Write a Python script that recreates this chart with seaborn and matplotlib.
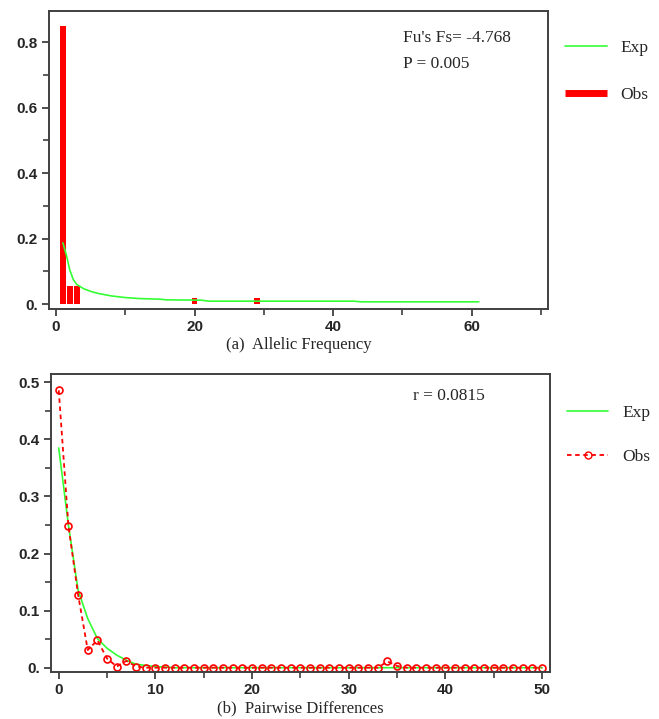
#!/usr/bin/env python3
"""Mismatch plots: allelic frequency (Fu's Fs) and pairwise differences."""

import matplotlib

matplotlib.use("Agg")
import matplotlib.pyplot as plt
import seaborn as sns
from matplotlib.lines import Line2D
from matplotlib.ticker import FixedLocator, MultipleLocator

sns.set_style("ticks")

# (a) allelic frequency
ALLELE_X = [1, 2, 3, 20, 29]
ALLELE_OBS = [0.848, 0.056, 0.056, 0.02, 0.02]
ALLELE_EXP_X = [1, 1.5, 2, 2.5, 3, 4, 5, 6, 7, 8, 10, 12, 15, 16, 21, 22, 30, 40, 43, 44, 50, 61]
ALLELE_EXP = [0.187, 0.150, 0.104, 0.075, 0.060, 0.047, 0.039, 0.033, 0.029, 0.025,
              0.020, 0.017, 0.015, 0.013, 0.012, 0.009, 0.009, 0.009, 0.009, 0.007,
              0.007, 0.007]
ALLELE_YTICKS = [0.0, 0.2, 0.4, 0.6, 0.8]
ALLELE_YLABELS = ["0.", "0.2", "0.4", "0.6", "0.8"]
ALLELE_XTICKS = [0, 20, 40, 60]

# (b) pairwise differences
PAIR_X = list(range(51))
PAIR_OBS = [0.486, 0.249, 0.128, 0.031, 0.048, 0.016, 0.002, 0.012, 0.002, 0.0,
            0.0, 0.0, 0.0, 0.0, 0.0, 0.0, 0.0, 0.0, 0.0, 0.0,
            0.0, 0.0, 0.0, 0.0, 0.0, 0.0, 0.0, 0.0, 0.0, 0.0,
            0.0, 0.0, 0.0, 0.0, 0.011, 0.003, 0.0, 0.0, 0.0, 0.0,
            0.0, 0.0, 0.0, 0.0, 0.0, 0.0, 0.0, 0.0, 0.0, 0.0, 0.0]
PAIR_EXP = [0.385, 0.250, 0.136, 0.086, 0.051, 0.034, 0.022, 0.013, 0.006, 0.004,
            0.002, 0.001] + [0.0] * 39
PAIR_YTICKS = [0.0, 0.1, 0.2, 0.3, 0.4, 0.5]
PAIR_YLABELS = ["0.", "0.1", "0.2", "0.3", "0.4", "0.5"]
PAIR_XTICKS = [0, 10, 20, 30, 40, 50]

RED = "#ff0000"
GREEN = "#33ff33"
SERIF = "Liberation Serif"
SPINE = "#404040"


def style_axes(ax):
    for spine in ax.spines.values():
        spine.set_visible(True)
        spine.set_color(SPINE)
        spine.set_linewidth(1.4)
    ax.tick_params(which="major", direction="out", length=5, width=1.3, color=SPINE,
                   labelsize=11, pad=3)
    ax.tick_params(which="minor", direction="out", length=4, width=1.2, color=SPINE)
    for lab in ax.get_xticklabels() + ax.get_yticklabels():
        lab.set_fontweight("bold")
        lab.set_family("Liberation Sans")
    ax.set_ylabel("")


def main() -> None:
    fig = plt.figure(figsize=(6.59, 7.19), dpi=100)
    ax1 = fig.add_axes([0.0744, 0.5702, 0.7572, 0.4145])
    ax2 = fig.add_axes([0.0774, 0.0650, 0.7570, 0.4144])

    # panel (a)
    sns.barplot(x=ALLELE_X, y=ALLELE_OBS, native_scale=True, color=RED, width=0.8,
                saturation=1, edgecolor="none", ax=ax1)
    sns.lineplot(x=ALLELE_EXP_X, y=ALLELE_EXP, color=GREEN, linewidth=1.2, ax=ax1)
    ax1.set_xlim(-1, 71)
    ax1.set_ylim(-0.015, 0.895)
    ax1.xaxis.set_major_locator(FixedLocator(ALLELE_XTICKS))
    ax1.xaxis.set_minor_locator(FixedLocator([10, 30, 50, 70]))
    ax1.set_yticks(ALLELE_YTICKS)
    ax1.set_yticklabels(ALLELE_YLABELS)
    ax1.yaxis.set_minor_locator(FixedLocator([0.1, 0.3, 0.5, 0.7]))
    ax1.set_xlabel("(a)  Allelic Frequency", family=SERIF, fontsize=12, labelpad=2)
    style_axes(ax1)
    ax1.text(0.71, 0.895, "Fu's Fs= -4.768", transform=ax1.transAxes, family=SERIF,
             fontsize=12.5)
    ax1.text(0.71, 0.81, "P = 0.005", transform=ax1.transAxes, family=SERIF,
             fontsize=12.5)
    handles1 = [Line2D([], [], color=GREEN, linewidth=1.2),
                Line2D([], [], color=RED, linewidth=5, solid_capstyle="butt")]
    ax1.legend(handles1, ["Exp", "Obs"], loc="upper left", bbox_to_anchor=(1.02, 0.925),
               frameon=False, prop={"family": SERIF, "size": 12.5}, handlelength=2.4,
               labelspacing=1.75, borderaxespad=0)

    # panel (b)
    sns.lineplot(x=PAIR_X, y=PAIR_EXP, color=GREEN, linewidth=1.2, ax=ax2)
    sns.lineplot(x=PAIR_X, y=PAIR_OBS, color=RED, linewidth=1.3, linestyle=(0, (2.5, 2)),
                 marker="o", markersize=5, markerfacecolor="none", markeredgecolor=RED,
                 markeredgewidth=1.2, ax=ax2)
    ax2.set_xlim(-0.8, 50.8)
    ax2.set_ylim(-0.008, 0.514)
    ax2.set_xticks(PAIR_XTICKS)
    ax2.xaxis.set_minor_locator(MultipleLocator(5))
    ax2.set_yticks(PAIR_YTICKS)
    ax2.set_yticklabels(PAIR_YLABELS)
    ax2.yaxis.set_minor_locator(FixedLocator([0.05, 0.15, 0.25, 0.35, 0.45]))
    ax2.set_xlabel("(b)  Pairwise Differences", family=SERIF, fontsize=12, labelpad=2)
    style_axes(ax2)
    ax2.text(0.725, 0.915, "r = 0.0815", transform=ax2.transAxes, family=SERIF,
             fontsize=12.5)
    handles2 = [Line2D([], [], color=GREEN, linewidth=1.2),
                Line2D([], [], color=RED, linewidth=1.3, linestyle=(0, (2.5, 2)),
                       marker="o", markersize=5, markerfacecolor="none",
                       markeredgecolor=RED)]
    ax2.legend(handles2, ["Exp", "Obs"], loc="upper left", bbox_to_anchor=(1.02, 0.92),
               frameon=False, prop={"family": SERIF, "size": 12.5}, handlelength=2.4,
               labelspacing=1.6, borderaxespad=0)

    fig.savefig("out.png", dpi=100)


if __name__ == "__main__":
    main()
